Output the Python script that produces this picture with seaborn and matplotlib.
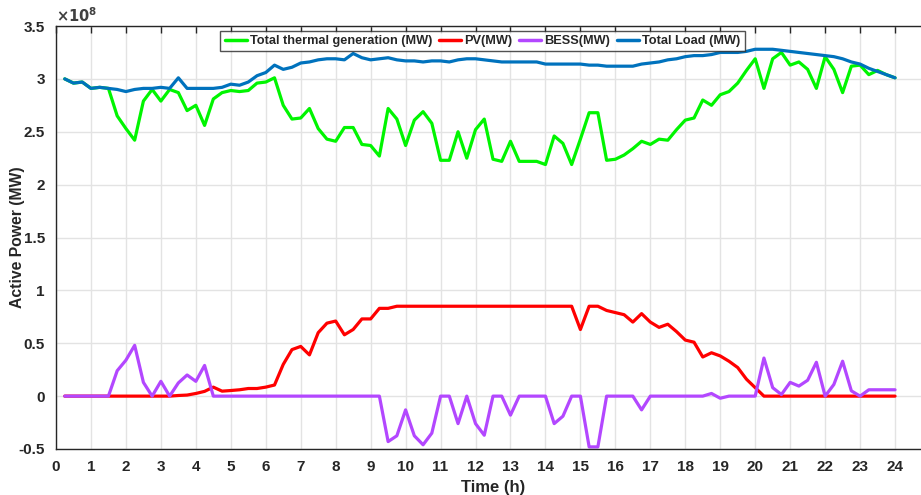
import numpy as np
import pandas as pd
import seaborn as sns
import matplotlib.pyplot as plt
from matplotlib.ticker import FuncFormatter, MultipleLocator

sns.set_style('white')
plt.rcParams['font.family'] = ['Liberation Sans', 'DejaVu Sans']
plt.rcParams['font.weight'] = 'bold'
plt.rcParams['axes.unicode_minus'] = False

# time steps, 15 min
time_h = [0.25 * (i + 1) for i in range(96)]

# values in units of 1e8 MW
thermal = [3.00, 2.96, 2.97, 2.91, 2.92, 2.91, 2.65, 2.53, 2.42, 2.79, 2.90, 2.79,
           2.90, 2.87, 2.70, 2.75, 2.56, 2.81, 2.87, 2.89, 2.88, 2.89, 2.96, 2.97,
           3.01, 2.75, 2.62, 2.63, 2.72, 2.53, 2.43, 2.41, 2.54, 2.54, 2.38, 2.37,
           2.27, 2.72, 2.62, 2.37, 2.61, 2.69, 2.58, 2.23, 2.23, 2.50, 2.25, 2.52,
           2.62, 2.24, 2.22, 2.41, 2.22, 2.22, 2.22, 2.19, 2.46, 2.39, 2.19, 2.43,
           2.68, 2.68, 2.23, 2.24, 2.28, 2.34, 2.41, 2.38, 2.43, 2.42, 2.52, 2.61,
           2.63, 2.80, 2.75, 2.85, 2.88, 2.96, 3.08, 3.19, 2.91, 3.19, 3.25, 3.13,
           3.16, 3.09, 2.91, 3.21, 3.09, 2.87, 3.12, 3.13, 3.04, 3.08, 3.04, 3.01]

pv = [0, 0, 0, 0, 0, 0, 0, 0, 0, 0, 0, 0,
      0, 0.006, 0.01, 0.025, 0.045, 0.085, 0.047, 0.053, 0.06, 0.072, 0.072, 0.085,
      0.105, 0.30, 0.44, 0.47, 0.39, 0.60, 0.69, 0.71, 0.58, 0.63, 0.73, 0.73,
      0.83, 0.83, 0.85, 0.85, 0.85, 0.85, 0.85, 0.85, 0.85, 0.85, 0.85, 0.85,
      0.85, 0.85, 0.85, 0.85, 0.85, 0.85, 0.85, 0.85, 0.85, 0.85, 0.85, 0.63,
      0.85, 0.85, 0.81, 0.79, 0.77, 0.70, 0.78, 0.70, 0.65, 0.68, 0.61, 0.53,
      0.51, 0.37, 0.41, 0.38, 0.33, 0.27, 0.16, 0.08, 0, 0, 0, 0,
      0, 0, 0, 0, 0, 0, 0, 0, 0, 0, 0, 0]

bess = [0, 0, 0, 0, 0, 0, 0.24, 0.34, 0.48, 0.13, 0, 0.14,
        0, 0.125, 0.20, 0.14, 0.29, 0, 0, 0, 0, 0, 0, 0,
        0, 0, 0, 0, 0, 0, 0, 0, 0, 0, 0, 0,
        0, -0.43, -0.375, -0.13, -0.375, -0.46, -0.35, 0, 0, -0.26, 0, -0.26,
        -0.37, 0, 0, -0.18, 0, 0, 0, 0, -0.26, -0.19, 0, 0,
        -0.48, -0.48, 0, 0, 0, 0, -0.13, 0, 0, 0, 0, 0,
        0, 0, 0.025, -0.02, 0, 0, 0, 0, 0.36, 0.08, 0.015, 0.13,
        0.095, 0.15, 0.32, 0, 0.11, 0.33, 0.05, 0, 0.06, 0.06, 0.06, 0.06]

load = [3.00, 2.96, 2.97, 2.91, 2.92, 2.91, 2.90, 2.88, 2.90, 2.91, 2.91, 2.92,
        2.91, 3.01, 2.91, 2.91, 2.91, 2.91, 2.92, 2.95, 2.94, 2.97, 3.03, 3.06,
        3.13, 3.09, 3.11, 3.15, 3.16, 3.18, 3.19, 3.19, 3.18, 3.24, 3.20, 3.18,
        3.19, 3.20, 3.18, 3.17, 3.17, 3.16, 3.17, 3.17, 3.16, 3.18, 3.19, 3.19,
        3.18, 3.17, 3.16, 3.16, 3.16, 3.16, 3.16, 3.14, 3.14, 3.14, 3.14, 3.14,
        3.13, 3.13, 3.12, 3.12, 3.12, 3.12, 3.14, 3.15, 3.16, 3.18, 3.19, 3.21,
        3.22, 3.22, 3.23, 3.25, 3.25, 3.25, 3.26, 3.28, 3.28, 3.28, 3.27, 3.26,
        3.25, 3.24, 3.23, 3.22, 3.21, 3.19, 3.16, 3.14, 3.10, 3.07, 3.04, 3.01]

names = ['Total thermal generation (MW)', 'PV(MW)', 'BESS(MW)', 'Total Load (MW)']
colors = ['#00F500', '#FF0000', '#B347FF', '#0072BD']

frames = []
for name, vals in zip(names, [thermal, pv, bess, load]):
    frames.append(pd.DataFrame({'Time': time_h,
                                'Power': np.array(vals) * 1e8,
                                'Series': name}))
df = pd.concat(frames, ignore_index=True)

fig = plt.figure(figsize=(9.21, 4.95), dpi=100)
ax = fig.add_axes([56 / 921, 46 / 495, 874 / 921, 423 / 495])

sns.lineplot(data=df, x='Time', y='Power', hue='Series', hue_order=names,
             palette=colors, linewidth=2.3, ax=ax, legend=True)

ax.set_xlim(0, 25)
ax.set_ylim(-0.5e8, 3.5e8)
ax.set_xticks(range(0, 25))
ax.yaxis.set_major_locator(MultipleLocator(0.5e8))
# MATLAB style labels with exponent shown separately
ax.yaxis.set_major_formatter(FuncFormatter(lambda v, p: '%g' % round(v / 1e8, 2)))
ax.text(0.0, 1.002, r'$\times 10^{8}$', transform=ax.transAxes, fontsize=10.5,
        color='#404040', ha='left', va='bottom')

ax.grid(True, color='#E3E3E3', linewidth=1)
ax.tick_params(axis='both', direction='in', length=5, width=1, labelsize=11,
               colors='#262626', top=True, right=False)
ax.tick_params(axis='x', pad=8)
ax.tick_params(axis='y', pad=8)
for lbl in ax.get_xticklabels() + ax.get_yticklabels():
    lbl.set_fontweight('bold')
for s in ['left', 'bottom', 'top']:
    ax.spines[s].set_color('#262626')
    ax.spines[s].set_linewidth(1)
ax.spines['right'].set_visible(False)

ax.set_xlabel('Time (h)', fontsize=12, fontweight='bold', color='#262626', labelpad=4)
ax.set_ylabel('Active Power (MW)', fontsize=11.3, fontweight='bold', color='#262626')
ax.yaxis.set_label_coords(-0.036, 0.5)

handles, labels = ax.get_legend_handles_labels()
leg = ax.legend(handles, labels, loc='upper center', bbox_to_anchor=(0.488, 0.988),
                ncol=4, frameon=True, fancybox=False,
                prop={'weight': 'bold', 'size': 9.2}, handlelength=1.75,
                columnspacing=0.5, handletextpad=0.25, borderpad=0.32,
                borderaxespad=0)
leg.get_frame().set_edgecolor('#262626')
leg.get_frame().set_linewidth(1)
for line in leg.get_lines():
    line.set_linewidth(2.5)

fig.savefig('out.png', dpi=100)
